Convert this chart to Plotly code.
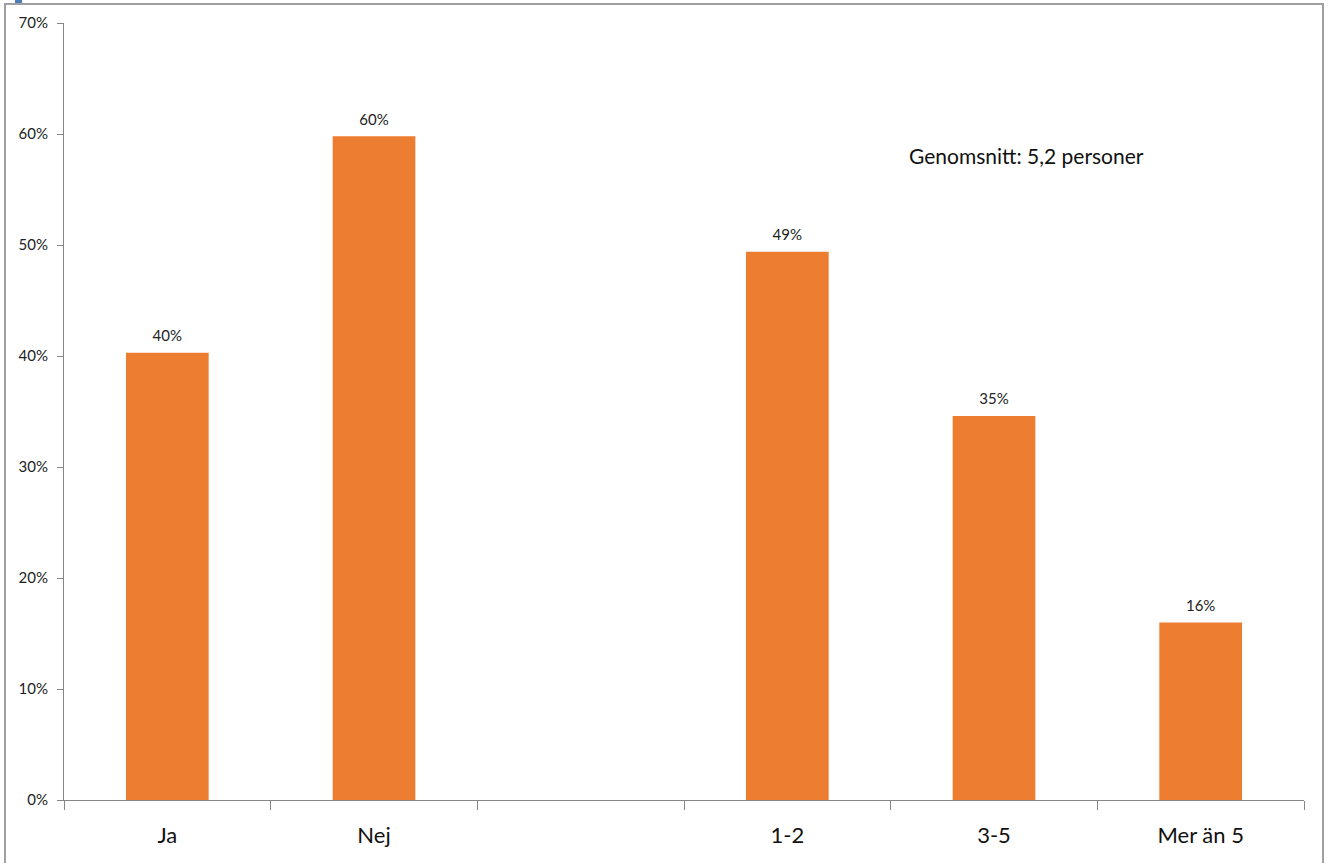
import plotly.graph_objects as go

categories = ["Ja", "Nej", " ", "1-2", "3-5", "Mer än 5"]
shares = [0.403, 0.598, None, 0.494, 0.346, 0.160]
y_ticks = [0, 0.1, 0.2, 0.3, 0.4, 0.5, 0.6, 0.7]
note = "Genomsnitt: 5,2 personer"

FONT = "Lato, 'Open Sans', sans-serif"
AXIS_GRAY = "#868686"

fig = go.Figure()
fig.add_trace(
    go.Bar(
        x=categories,
        y=shares,
        width=0.4,
        marker=dict(color="#ED7D31", line=dict(width=0)),
        hoverinfo="skip",
    )
)
# value labels above each bar (invisible markers keep a gap above the bar)
fig.add_trace(
    go.Scatter(
        x=categories,
        y=shares,
        mode="markers+text",
        marker=dict(size=11, opacity=0),
        texttemplate="%{y:.0%}",
        textposition="top center",
        textfont=dict(family=FONT, size=15, color="#222222"),
        cliponaxis=False,
        hoverinfo="skip",
    )
)

fig.update_layout(
    width=1329,
    height=863,
    margin=dict(l=64, r=25, t=23, b=63),
    paper_bgcolor="white",
    plot_bgcolor="white",
    showlegend=False,
    font=dict(family=FONT, color="#222222"),
    xaxis=dict(
        type="category",
        categoryorder="array",
        categoryarray=categories,
        range=[-0.5, 5.5],
        showgrid=False,
        showline=True,
        linecolor=AXIS_GRAY,
        linewidth=1,
        ticks="outside",
        tickson="boundaries",
        ticklen=9,
        tickcolor=AXIS_GRAY,
        ticklabelstandoff=16,
        tickfont=dict(family=FONT, size=22, color="#111111"),
        zeroline=False,
    ),
    yaxis=dict(
        range=[0, 0.7],
        tickvals=y_ticks,
        tickformat=".0%",
        showgrid=False,
        showline=True,
        linecolor=AXIS_GRAY,
        linewidth=1,
        ticks="outside",
        ticklen=6,
        tickcolor=AXIS_GRAY,
        ticklabelstandoff=6,
        tickfont=dict(family=FONT, size=15, color="#222222"),
        zeroline=False,
    ),
    annotations=[
        dict(
            text=note,
            xref="paper",
            yref="paper",
            x=0.776,
            y=0.829,
            showarrow=False,
            xanchor="center",
            yanchor="middle",
            font=dict(family=FONT, size=21, color="#111111"),
        )
    ],
    shapes=[
        # outer frame around the chart
        dict(
            type="rect",
            xref="paper",
            yref="paper",
            x0=(5 - 64) / 1240,
            x1=(1323 - 64) / 1240,
            y0=(800 - 870) / 777,
            y1=(800 - 4) / 777,
            line=dict(color="#A0A0A0", width=2),
            fillcolor="rgba(0,0,0,0)",
            layer="below",
        ),
        # small blue marker at the top-left corner
        dict(
            type="rect",
            xref="paper",
            yref="paper",
            x0=(15 - 64) / 1240,
            x1=(22 - 64) / 1240,
            y0=(800 - 3) / 777,
            y1=(800 - 0) / 777,
            line=dict(width=0),
            fillcolor="#4A7EBB",
        ),
    ],
)

fig.write_html("out.html")
